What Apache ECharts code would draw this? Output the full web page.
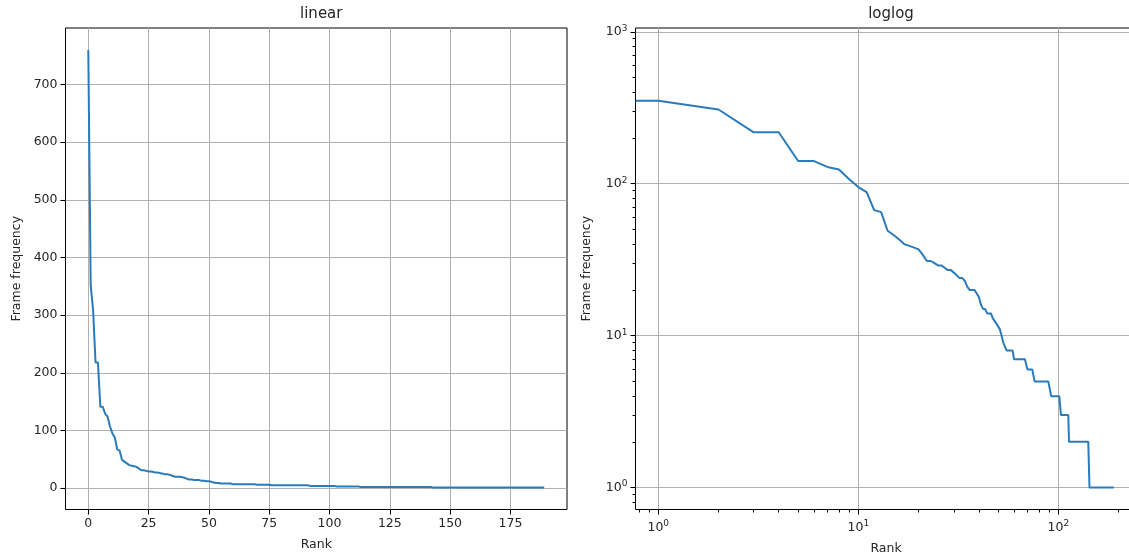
<!DOCTYPE html>
<html><head><meta charset="utf-8">
<script src="https://cdn.jsdelivr.net/npm/echarts@6/dist/echarts.min.js"></script>
<style>html,body{margin:0;padding:0;background:#fff}#c{width:1129px;height:555px}</style>
</head><body><div id="c"></div>
<script>
// Frame frequency by rank (rank 0..189)
const freq = [
 760, 352, 308, 218, 218, 141, 141, 129, 124, 107,
 95, 88, 67, 65, 49, 46, 43, 40, 39, 38,
 37, 34, 31, 31, 30, 29, 29, 28, 27, 27,
 26, 25, 24, 24, 23, 21, 20, 20, 20, 19,
 18, 16, 15, 15, 14, 14, 14, 13, 13, 12,
 12, 11, 10, 9, 9, 8, 8, 8, 8, 8,
 7, 7, 7, 7, 7, 7, 7, 7, 7, 7,
 6, 6, 6, 6, 6, 6, 5, 5, 5, 5,
 5, 5, 5, 5, 5, 5, 5, 5, 5, 5,
 5, 5, 4, 4, 4, 4, 4, 4, 4, 4,
 4, 4, 4, 3, 3, 3, 3, 3, 3, 3,
 3, 3, 3, 2, 2, 2, 2, 2, 2, 2,
 2, 2, 2, 2, 2, 2, 2, 2, 2, 2,
 2, 2, 2, 2, 2, 2, 2, 2, 2, 2,
 2, 2, 2, 1, 1, 1, 1, 1, 1, 1,
 1, 1, 1, 1, 1, 1, 1, 1, 1, 1,
 1, 1, 1, 1, 1, 1, 1, 1, 1, 1,
 1, 1, 1, 1, 1, 1, 1, 1, 1, 1,
 1, 1, 1, 1, 1, 1, 1, 1, 1, 1
];
const ranks = freq.map((_, i) => i);

const linearXTicks = [0, 25, 50, 75, 100, 125, 150, 175];
const linearYTicks = [0, 100, 200, 300, 400, 500, 600, 700];
const logXTicks = [1, 10, 100];
const logYTicks = [1, 10, 100, 1000];
const logXMinor = [0.8, 0.9, 2, 3, 4, 5, 6, 7, 8, 9, 20, 30, 40, 50, 60, 70, 80, 90, 200];
const logYMinor = [0.8, 0.9, 2, 3, 4, 5, 6, 7, 8, 9, 20, 30, 40, 50, 60, 70, 80, 90, 200, 300, 400, 500, 600, 700, 800, 900];

const titles = ['linear', 'loglog'];
const xName = 'Rank';
const yName = 'Frame frequency';

// matplotlib-style 5% autoscale margins
const xMaxData = ranks[ranks.length - 1];
const yMinData = Math.min(...freq), yMaxData = Math.max(...freq);
const linXMin = -0.05 * xMaxData, linXMax = xMaxData * 1.05;
const linYMin = yMinData - 0.05 * (yMaxData - yMinData), linYMax = yMaxData + 0.05 * (yMaxData - yMinData);
const lx = Math.log10(xMaxData);
const logXMin = Math.pow(10, -0.05 * lx), logXMax = Math.pow(10, 1.05 * lx);
const ly0 = Math.log10(yMinData), ly1 = Math.log10(yMaxData);
const logYMin = Math.pow(10, ly0 - 0.05 * (ly1 - ly0)), logYMax = Math.pow(10, ly1 + 0.05 * (ly1 - ly0));

// loglog: rank 0 is clipped (matplotlib maps log(0) far left), segment towards rank 1 appears flat
const clipLog = -1000;
const tClip = (Math.log10(logXMin) - clipLog) / (0 - clipLog);
const yAtMin = Math.pow(10, Math.log10(freq[0]) + (Math.log10(freq[1]) - Math.log10(freq[0])) * tClip);
const logData = [[logXMin, yAtMin]].concat(ranks.slice(1).map((r, i) => [r, freq[i + 1]]));
const linData = ranks.map((r, i) => [r, freq[i]]);

const FONT = 'DejaVu Sans';
const TXT = '#262626';
const GRIDC = '#b0b0b0';
const FS = 12.5;
const supFmt = v => '{b|10}{s|' + Math.round(Math.log10(v)) + '}';
const supRich = { b: { fontSize: FS, fontFamily: FONT, color: TXT }, s: { fontSize: 9, fontFamily: FONT, color: TXT, padding: [0, 0, 7, 0] } };
const tickStyle = len => ({ show: true, inside: false, length: len, lineStyle: { color: '#000', width: 1 } });
const noLine = { show: false, onZero: false };

const grids = [
  { left: 65.5, top: 28, width: 501.5, height: 481.5 },
  { left: 635.5, top: 28, width: 501, height: 481.5 }
];

const chart = echarts.init(document.getElementById('c'), null, { renderer: 'canvas' });
chart.setOption({
  animation: false,
  backgroundColor: '#fff',
  title: titles.map((t, i) => ({
    text: t, left: grids[i].left + grids[i].width / 2, top: 2, textAlign: 'center',
    textStyle: { fontFamily: FONT, fontSize: 15, fontWeight: 'normal', color: TXT }
  })),
  grid: grids.map(g => Object.assign({ show: true, borderColor: '#000', borderWidth: 1, backgroundColor: 'transparent', containLabel: false, outerBoundsMode: 'none' }, g)),
  xAxis: [
    { type: 'value', gridIndex: 0, min: linXMin, max: linXMax, position: 'bottom',
      name: xName, nameLocation: 'middle', nameGap: 29, nameTextStyle: { fontFamily: FONT, fontSize: FS, color: TXT },
      axisLine: noLine,
      axisTick: Object.assign(tickStyle(5), { customValues: linearXTicks }),
      axisLabel: { customValues: linearXTicks, margin: 8, fontFamily: FONT, fontSize: FS, color: TXT },
      splitLine: { show: true, lineStyle: { color: GRIDC, width: 1 } } },
    { type: 'log', gridIndex: 1, min: logXMin, max: logXMax, logBase: 10, position: 'bottom',
      name: xName, nameLocation: 'middle', nameGap: 33, nameTextStyle: { fontFamily: FONT, fontSize: FS, color: TXT },
      axisLine: noLine,
      axisTick: Object.assign(tickStyle(5), { customValues: logXTicks }),
      axisLabel: { customValues: logXTicks, margin: 10, formatter: supFmt, rich: supRich },
      splitLine: { show: true, lineStyle: { color: GRIDC, width: 1 } } },
    { type: 'log', gridIndex: 1, min: logXMin, max: logXMax, logBase: 10, position: 'bottom',
      axisLine: noLine, axisLabel: { show: false }, splitLine: { show: false },
      axisTick: Object.assign(tickStyle(3), { customValues: logXMinor }) }
  ],
  yAxis: [
    { type: 'value', gridIndex: 0, min: linYMin, max: linYMax, position: 'left',
      name: yName, nameLocation: 'middle', nameGap: 42, nameTextStyle: { fontFamily: FONT, fontSize: FS, color: TXT },
      axisLine: noLine,
      axisTick: Object.assign(tickStyle(5), { customValues: linearYTicks }),
      axisLabel: { customValues: linearYTicks, margin: 8, fontFamily: FONT, fontSize: FS, color: TXT },
      splitLine: { show: true, lineStyle: { color: GRIDC, width: 1 } } },
    { type: 'log', gridIndex: 1, min: logYMin, max: logYMax, logBase: 10, position: 'left',
      name: yName, nameLocation: 'middle', nameGap: 42, nameTextStyle: { fontFamily: FONT, fontSize: FS, color: TXT },
      axisLine: noLine,
      axisTick: Object.assign(tickStyle(5), { customValues: logYTicks }),
      axisLabel: { customValues: logYTicks, margin: 8, formatter: supFmt, rich: supRich },
      splitLine: { show: true, lineStyle: { color: GRIDC, width: 1 } } },
    { type: 'log', gridIndex: 1, min: logYMin, max: logYMax, logBase: 10, position: 'left',
      axisLine: noLine, axisLabel: { show: false }, splitLine: { show: false },
      axisTick: Object.assign(tickStyle(3), { customValues: logYMinor }) }
  ],
  series: [
    { type: 'line', xAxisIndex: 0, yAxisIndex: 0, data: linData, showSymbol: false, symbol: 'none',
      lineStyle: { color: '#2a7bbb', width: 2 }, z: 5 },
    { type: 'line', xAxisIndex: 1, yAxisIndex: 1, data: logData, showSymbol: false, symbol: 'none',
      lineStyle: { color: '#2a7bbb', width: 2 }, z: 5 }
  ]
});
</script></body></html>
